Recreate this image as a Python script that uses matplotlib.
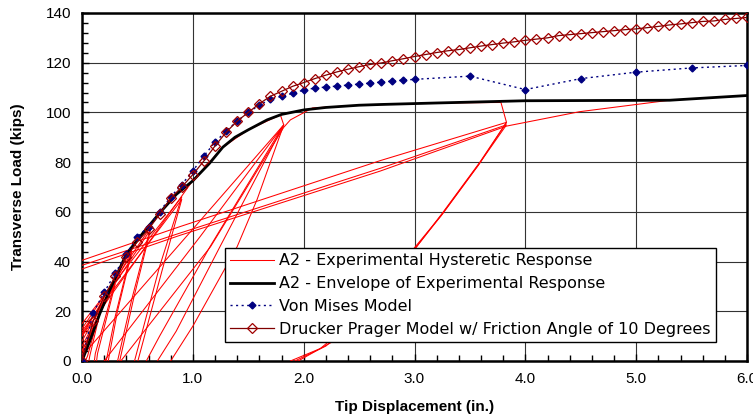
import numpy as np
import matplotlib
matplotlib.use("Agg")
import matplotlib.pyplot as plt
from matplotlib.ticker import MultipleLocator

# ---------------- data ----------------
# Von Mises model
vm_x = [0.0, 0.1, 0.2, 0.3, 0.4, 0.5, 0.6, 0.7, 0.8, 0.9, 1.0, 1.1, 1.2, 1.3, 1.4, 1.5,
        1.6, 1.7, 1.8, 1.9, 2.0, 2.1, 2.2, 2.3, 2.4, 2.5, 2.6, 2.7, 2.8, 2.9, 3.0,
        3.5, 4.0, 4.5, 5.0, 5.5, 6.0]
vm_y = [0.0, 19.4, 27.6, 35.3, 43.0, 50.0, 54.0, 60.0, 66.0, 71.0, 76.5, 82.5, 88.0, 92.5, 96.5, 100.0,
        102.9, 105.3, 106.5, 107.7, 109.0, 109.8, 110.2, 110.6, 111.0, 111.4, 111.8, 112.2, 112.6, 113.0, 113.3,
        114.6, 109.2, 113.6, 116.2, 117.9, 118.9]

# Drucker Prager model (friction angle 10 deg)
dp_x = [round(0.1 * i, 1) for i in range(61)]
dp_y = [0.0, 16.0, 26.0, 34.0, 42.0, 48.0, 53.0, 59.0, 65.5, 70.0,
        75.0, 80.5, 86.5, 92.0, 96.5, 100.0, 103.5, 106.5, 108.5, 110.5,
        112.0, 113.6, 115.0, 116.3, 117.4, 118.4, 119.3, 119.9, 120.8, 121.6,
        122.5, 123.3, 124.1, 124.8, 125.3, 126.0, 126.7, 127.3, 127.9, 128.4,
        129.0, 129.5, 130.0, 130.9, 131.3, 131.7, 132.1, 132.5, 132.9, 133.3,
        133.6, 134.1, 134.6, 135.2, 135.6, 136.1, 136.6, 136.8, 137.4, 137.8, 138.2]

# Envelope of experimental response
env_x = [0.0, 0.07, 0.16, 0.25, 0.40, 0.55, 0.70, 0.85, 1.00, 1.15, 1.27, 1.38, 1.50, 1.67,
         1.80, 2.00, 2.20, 2.50, 2.70, 3.20, 4.00, 5.30, 6.00]
env_y = [0.0, 8.0, 19.0, 28.5, 43.0, 51.5, 59.5, 67.0, 72.5, 79.5, 86.0, 90.0, 93.0, 97.0,
         99.2, 101.0, 102.0, 102.9, 103.2, 103.8, 104.7, 104.9, 106.8]

c01_x = [-0.10, 0.15, 0.05, 0.0];  c01_y = [-8, 18, 2, -3]
c02_x = [-0.15, 0.16, 0.07, 0.05]; c02_y = [-10, 19, 2, -3]
c03_x = [-0.25, 0.0, 0.30, 0.12, 0.10]; c03_y = [-12, 4, 32, 3, -4]
c04_x = [-0.25, 0.0, 0.30, 0.14, 0.12]; c04_y = [-10, 6, 31, 3, -4]
c05_x = [-0.40, 0.0, 0.45, 0.30, 0.20]; c05_y = [-10, 10, 45, 18, -4]
c06_x = [-0.40, 0.0, 0.45, 0.32, 0.22]; c06_y = [-12, 8, 44, 20, -4]
c07_x = [-0.60, 0.0, 0.62, 0.45, 0.30]; c07_y = [-12, 13, 54, 25, -4]
c08_x = [-0.60, 0.0, 0.62, 0.47, 0.32]; c08_y = [-14, 11, 53, 26, -4]
c09_x = [-0.80, 0.0, 0.90, 0.70, 0.45]; c09_y = [-15, 15, 66, 38, -4]
c10_x = [-0.80, 0.0, 0.90, 0.72, 0.48]; c10_y = [-18, 12, 65, 36, -4]
c11_x = [-0.80, 0.0, 0.99, 1.27, 1.50, 1.79, 1.82, 1.58, 1.40, 1.00, 0.80, 0.75]
c11_y = [-20, 10, 72, 86, 93, 99, 95, 65, 46, 14, 0, -4]
c12_x = [-0.30, 0.0, 0.94, 1.82, 1.245, 0.85, 0.68, 0.64]
c12_y = [-15, 2, 50, 95, 46, 12, 0, -4]
c13_x = [-0.30, 0.20, 1.065, 1.82, 1.155, 0.70, 0.58, 0.54]
c13_y = [-20, 0, 50, 95, 46, 10, 0, -4]
c14_x = [-0.30, 0.35, 1.16, 1.82, 1.88, 2.08, 2.50, 3.20, 3.78, 3.83, 3.59, 3.26, 3.02, 2.60, 2.25, 1.95, 1.90]
c14_y = [-22, 0, 46, 94, 97, 101.8, 102.9, 103.8, 104, 96, 80, 60, 46, 22, 7.5, 0, -2]
c15_x = [-0.50, 0.0, 0.88, 2.69, 3.83, 3.58, 3.25, 3.00, 2.55, 2.20, 1.92, 1.88]
c15_y = [32, 40.5, 54, 80.6, 96, 79, 59, 45, 20, 6, 0, -2]
c16_x = [-0.50, 0.0, 0.88, 2.69, 3.83, 3.57, 3.24, 2.98, 2.50, 2.15, 1.88, 1.84]
c16_y = [30, 38.5, 51.4, 77.5, 95, 78.5, 58.5, 44.5, 18, 5, 0, -2]
c17_x = [-0.50, 0.0, 0.88, 2.69, 3.83, 4.49, 5.30]
c17_y = [29, 37, 50.5, 76.4, 94.5, 100.3, 104.9]

hyst_cycles = [(c01_x, c01_y), (c02_x, c02_y), (c03_x, c03_y), (c04_x, c04_y),
               (c05_x, c05_y), (c06_x, c06_y), (c07_x, c07_y), (c08_x, c08_y),
               (c09_x, c09_y), (c10_x, c10_y), (c11_x, c11_y), (c12_x, c12_y),
               (c13_x, c13_y), (c14_x, c14_y), (c15_x, c15_y), (c16_x, c16_y),
               (c17_x, c17_y)]

x_ticks = [0, 1, 2, 3, 4, 5, 6]
x_tick_labels = ["0.0", "1.0", "2.0", "3.0", "4.0", "5.0", "6.0"]
y_ticks = [0, 20, 40, 60, 80, 100, 120, 140]

labels = ["A2 - Experimental Hysteretic Response",
          "A2 - Envelope of Experimental Response",
          "Von Mises Model",
          "Drucker Prager Model w/ Friction Angle of 10 Degrees"]

# ---------------- plot ----------------
plt.rcParams['font.family'] = ['Liberation Sans', 'DejaVu Sans']
fig = plt.figure(figsize=(7.53, 4.18), dpi=100)
ax = fig.add_axes([82/753, 1 - 361/418, 665/753, 348/418])

for i, (hx, hy) in enumerate(hyst_cycles):
    ax.plot(hx, hy, color='#ff0000', lw=0.75, zorder=3,
            label=labels[0] if i == 0 else None)

ax.plot(env_x, env_y, color='black', lw=2.0, zorder=4, label=labels[1])
ax.plot(vm_x, vm_y, color='#000080', lw=1.0, linestyle=(0, (1.5, 2.5)),
        marker='D', markersize=3.5, markerfacecolor='#000080', markeredgecolor='#000080',
        zorder=5, label=labels[2])
ax.plot(dp_x, dp_y, color='#800000', lw=0.9, linestyle='-',
        marker='D', markersize=4.6, markerfacecolor='none', markeredgecolor='#a00000',
        markeredgewidth=0.9, zorder=6, label=labels[3])

ax.set_xlim(0, 6)
ax.set_ylim(0, 140)
ax.set_xticks(x_ticks)
ax.set_xticklabels(x_tick_labels)
ax.set_yticks(y_ticks)
ax.xaxis.set_minor_locator(MultipleLocator(0.2))
ax.yaxis.set_minor_locator(MultipleLocator(4))
ax.tick_params(which='major', direction='in', length=5, width=1, labelsize=11, pad=8)
ax.tick_params(which='minor', direction='in', length=4, width=1)
ax.grid(True, which='major', color='#333333', lw=0.8)
ax.set_axisbelow(True)
for s in ax.spines.values():
    s.set_linewidth(1.8)
    s.set_color('black')

ax.set_xlabel("Tip Displacement (in.)", fontsize=11, fontweight='bold', labelpad=10)
ax.set_ylabel("Transverse Load (kips)", fontsize=11, fontweight='bold', labelpad=15)

leg = ax.legend(loc='lower left', bbox_to_anchor=(0.215, 0.055), frameon=True,
                fancybox=False, framealpha=1, edgecolor='black',
                prop={'family': 'DejaVu Sans', 'size': 11.5}, handlelength=2.8,
                handletextpad=0.3, labelspacing=0.5, borderpad=0.3, borderaxespad=0)
leg.get_frame().set_linewidth(1.0)
leg.set_zorder(10)

fig.savefig("out.png", dpi=100)
